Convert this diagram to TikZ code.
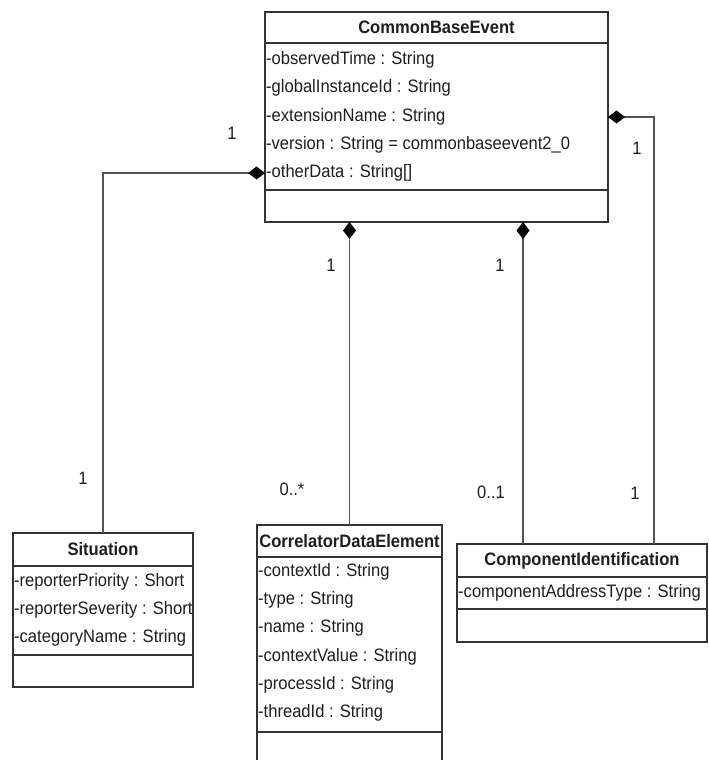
\documentclass[tikz,border=0pt]{standalone}
\usepackage{fontspec}
\setmainfont{Liberation Sans}[FakeStretch=0.92]
\usetikzlibrary{arrows.meta}
\definecolor{boxline}{HTML}{333333}
\definecolor{wire}{HTML}{555555}
\definecolor{ink}{HTML}{1E1E1E}
\begin{document}
\begin{tikzpicture}[x=1pt,y=-1pt,
  font=\fontsize{18pt}{20pt}\selectfont,
  classbox/.style={draw=boxline, line width=1.5pt, fill=white, anchor=north west,
    inner sep=0pt, outer sep=0pt},
  sep/.style={draw=boxline, line width=1.5pt},
  title/.style={text=ink, font=\fontsize{18pt}{20pt}\selectfont\bfseries, inner sep=0pt},
  attr/.style={text=ink, anchor=west, inner sep=0pt},
  mult/.style={text=ink, inner sep=0pt},
  comp/.style={draw=wire, line width=1.1pt,
    -{Diamond[length=17pt,width=13pt,fill=black,color=black]}}
]
\useasboundingbox (0,0) rectangle (709,760);
\clip (0,0) rectangle (709,760);

% CommonBaseEvent
\node[classbox, minimum width=343pt, minimum height=210pt] (cbe) at (265,12) {};
\draw[sep] (cbe.west |- 0,43) -- (cbe.east |- 0,43);
\draw[sep] (cbe.west |- 0,190) -- (cbe.east |- 0,190);
\node[title] (cbeT) at (436.5,27.5) {CommonBaseEvent};
\node[attr] (cbe1) at (266,60) {-observedTime : String};
\node[attr] (cbe2) at (266,88) {-globalInstanceId : String};
\node[attr] (cbe3) at (266,117) {-extensionName : String};
\node[attr] (cbe4) at (266,145) {-version : String = commonbaseevent2\_0};
\node[attr] (cbe5) at (266,173) {-otherData : String[]};

% Situation
\node[classbox, minimum width=180pt, minimum height=154pt] (sit) at (13,533) {};
\draw[sep] (sit.west |- 0,566) -- (sit.east |- 0,566);
\draw[sep] (sit.west |- 0,655) -- (sit.east |- 0,655);
\node[title] (sitT) at (103,549.5) {Situation};
\node[attr] (sit1) at (14,582) {-reporterPriority : Short};
\node[attr] (sit2) at (14,610) {-reporterSeverity : Short};
\node[attr] (sit3) at (14,638) {-categoryName : String};

% CorrelatorDataElement
\node[classbox, minimum width=185pt, minimum height=250pt] (cde) at (257,525) {};
\draw[sep] (cde.west |- 0,557) -- (cde.east |- 0,557);
\draw[sep] (cde.west |- 0,732) -- (cde.east |- 0,732);
\node[title] (cdeT) at (349.5,541) {CorrelatorDataElement};
\node[attr] (cde1) at (258,572) {-contextId : String};
\node[attr] (cde2) at (258,600) {-type : String};
\node[attr] (cde3) at (258,628) {-name : String};
\node[attr] (cde4) at (258,657) {-contextValue : String};
\node[attr] (cde5) at (258,685) {-processId : String};
\node[attr] (cde6) at (258,713) {-threadId : String};

% ComponentIdentification
\node[classbox, minimum width=250pt, minimum height=98pt] (ci) at (457,544) {};
\draw[sep] (ci.west |- 0,577) -- (ci.east |- 0,577);
\draw[sep] (ci.west |- 0,609) -- (ci.east |- 0,609);
\node[title] (ciT) at (582,560.5) {ComponentIdentification};
\node[attr] (ci1) at (458,593) {-componentAddressType : String};

% composition links
\draw[comp] (sit.north) |- (cbe.west |- cbe5);
\draw[comp] (cde.north) -- (cbe.south -| cde.north);
\draw[comp] ([xshift=66pt]ci.north west) -- ([xshift=66pt]ci.north west |- cbe.south);
\draw[comp] ([xshift=197pt]ci.north west) |- ([yshift=-105pt]cbe.north east);

% multiplicities
\node[mult] (m1) at (232,133) {1};
\node[mult] (m2) at (83,478) {1};
\node[mult] (m3) at (331,265) {1};
\node[mult] (m4) at (292,489) {0..*};
\node[mult] (m5) at (500,265) {1};
\node[mult] (m6) at (491,492) {0..1};
\node[mult] (m7) at (637,148) {1};
\node[mult] (m8) at (635,493) {1};
\end{tikzpicture}
\end{document}
